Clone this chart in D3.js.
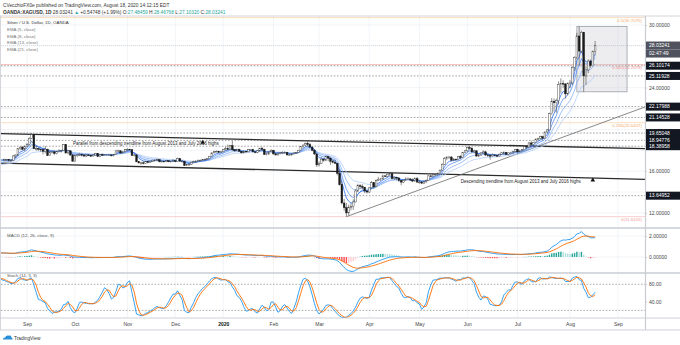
<!DOCTYPE html>
<html><head><meta charset="utf-8">
<script src="https://cdn.jsdelivr.net/npm/d3@7"></script>
<style>
html,body{margin:0;padding:0;background:#fff;}
svg{display:block;font-family:"Liberation Sans",Arial,sans-serif;}
</style></head><body>
<svg id="c" width="680" height="345"></svg>
<script>
// ---------------- DATA ----------------
// closes before the first visible bar (Jul 1 – Aug 16, 2019), used only to warm up indicators
const warmupCloses = [15.12,15.25,15.30,15.28,14.98,15.05,15.05,15.25,15.18,15.20,15.30,15.53,15.88,16.08,16.08,
  16.40,16.35,16.45,16.40,16.34,16.42,16.50,16.36,16.05,16.25,16.42,16.42,17.10,17.07,17.05,16.95,17.25,17.15,17.20,17.05];
// daily bars Aug 19, 2019 – Aug 18, 2020
const opens = [
 17.05,17.10,17.10,17.05,17.05,17.45,17.55,18.15,18.30,18.10,
 18.35,18.55,19.15,19.50,18.15,18.15,18.10,18.05,17.90,18.10,17.50,17.85,17.85,17.70,17.90,17.95,18.00,18.55,17.75,17.95,17.55,
 16.95,17.50,17.55,17.60,17.55,17.45,17.55,17.50,17.45,17.55,17.70,17.40,17.60,17.55,17.55,17.55,17.55,17.50,17.60,17.95,17.95,17.75,17.85,
 18.05,18.10,18.05,17.50,17.55,16.90,16.80,16.80,16.75,16.90,16.85,16.95,17.05,17.05,17.10,16.90,16.95,16.90,17.00,16.90,16.95,
 17.00,16.95,17.20,16.95,16.95,16.55,16.65,16.65,16.85,16.90,16.95,17.05,17.05,17.10,17.15,17.20,17.40,17.75,17.90,17.90,17.80,
 17.85,18.05,18.15,18.10,18.45,18.05,17.95,18.10,17.90,17.75,17.90,17.85,18.05,18.05,17.85,17.80,17.95,18.20,18.10,17.60,17.65,17.85,
 18.00,17.65,17.55,17.70,17.75,17.80,17.80,17.55,17.55,17.65,17.75,17.80,18.00,18.35,18.50,18.65,18.55,18.30,18.00,17.65,
 16.60,16.75,17.15,17.05,17.40,17.25,16.95,16.85,16.75,15.80,14.70,12.95,12.50,12.00,12.55,12.60,13.05,14.10,14.60,14.55,14.45,14.10,
 14.00,14.40,14.90,14.50,15.10,15.20,15.25,15.55,15.50,15.70,15.75,15.30,15.40,15.35,15.10,14.95,15.10,15.25,15.25,15.15,15.05,15.30,
 14.95,14.95,14.85,15.00,15.10,15.55,15.50,15.65,15.70,15.75,16.10,16.65,17.20,17.30,17.35,17.05,17.15,17.10,17.40,17.30,17.80,
 17.95,18.25,18.20,17.85,17.95,17.45,17.55,17.75,17.85,17.55,17.50,17.45,17.55,17.50,17.45,17.60,17.75,17.80,17.60,17.75,17.75,17.90,
 18.10,17.85,17.95,18.05,18.35,18.30,18.70,18.55,18.75,19.05,19.15,19.30,19.15,19.75,19.95,21.50,22.70,22.55,22.75,24.30,24.40,24.35,23.40,
 24.40,24.45,25.95,26.90,28.95,27.50,29.30,25.12,25.70,26.55,26.10,27.48];
const highs = [
 17.20,17.18,17.15,17.15,17.55,17.60,18.20,18.35,18.40,18.45,
 18.70,19.25,19.65,19.55,18.45,18.30,18.15,18.20,18.40,18.15,17.95,17.95,18.00,17.95,18.10,18.05,18.60,18.60,18.00,18.00,17.65,
 17.60,17.65,17.75,17.70,17.60,17.65,17.65,17.60,17.65,17.75,17.75,17.65,17.70,17.65,17.65,17.65,17.65,17.65,18.00,18.05,18.00,17.95,18.10,
 18.20,18.15,18.05,17.65,17.65,16.95,16.90,16.95,16.95,17.00,17.00,17.10,17.15,17.20,17.15,17.05,17.00,17.05,17.05,16.98,17.15,
 17.10,17.30,17.25,17.05,17.00,16.70,16.75,16.90,17.00,17.05,17.10,17.10,17.15,17.20,17.25,17.45,17.80,17.95,18.00,17.95,17.95,
 18.10,18.35,18.55,18.50,18.90,18.10,18.15,18.15,17.95,17.95,17.95,18.10,18.10,18.15,17.95,18.05,18.25,18.35,18.15,17.75,17.95,18.10,
 18.05,17.75,17.80,17.85,17.90,17.90,17.85,17.70,17.70,17.80,17.85,18.05,18.40,18.55,18.75,18.95,18.70,18.40,18.10,17.70,
 16.95,17.35,17.20,17.50,17.45,17.35,17.10,17.10,16.80,16.20,15.10,13.35,12.95,12.80,12.95,13.30,14.25,14.80,14.75,14.75,14.50,14.20,
 14.45,15.05,14.95,15.20,15.45,15.35,15.65,15.60,15.75,15.85,15.80,15.50,15.45,15.40,15.15,15.20,15.40,15.40,15.35,15.30,15.40,15.45,
 15.15,15.05,15.10,15.20,15.60,15.65,15.75,15.75,15.85,16.15,16.75,17.35,17.45,17.45,17.45,17.25,17.20,17.45,17.55,17.85,18.05,
 18.35,18.40,18.30,18.05,18.00,17.65,17.80,18.00,17.95,17.65,17.65,17.70,17.65,17.60,17.70,17.85,17.90,17.85,17.80,17.85,17.95,18.15,
 18.15,18.05,18.10,18.40,18.40,18.80,18.90,18.80,19.15,19.20,19.40,19.40,19.80,20.05,21.60,23.00,22.95,22.95,24.60,24.90,24.70,24.45,24.50,
 24.75,26.05,27.00,29.25,29.85,29.45,29.35,26.05,26.70,26.70,27.55,28.47];
const lows = [
 16.95,16.98,16.92,16.90,16.95,17.25,17.45,18.00,18.00,17.90,
 18.30,18.45,19.10,18.10,17.95,17.95,17.85,17.60,17.70,17.45,17.50,17.70,17.55,17.60,17.80,17.80,17.95,17.65,17.60,17.45,16.95,
 16.90,17.35,17.45,17.40,17.35,17.35,17.45,17.35,17.40,17.50,17.35,17.35,17.45,17.45,17.45,17.45,17.40,17.40,17.55,17.80,17.65,17.70,17.80,
 17.90,17.95,17.45,17.40,16.85,16.70,16.60,16.65,16.70,16.75,16.80,16.90,16.95,16.95,16.85,16.85,16.85,16.85,16.85,16.85,16.90,
 16.85,16.90,16.90,16.85,16.50,16.50,16.55,16.60,16.75,16.80,16.90,16.95,17.00,17.00,17.05,17.15,17.35,17.70,17.80,17.75,17.70,
 17.80,17.95,18.00,18.05,17.95,17.85,17.90,17.85,17.70,17.70,17.80,17.80,17.95,17.80,17.70,17.70,17.85,18.00,17.55,17.50,17.55,17.80,
 17.60,17.50,17.50,17.60,17.65,17.70,17.50,17.45,17.50,17.60,17.65,17.75,17.95,18.20,18.40,18.35,18.20,17.90,17.55,16.40,
 16.45,16.70,16.90,16.95,16.95,16.60,16.75,16.70,15.60,14.60,12.80,12.20,11.64,11.75,12.25,12.30,13.00,14.00,14.30,14.25,13.90,13.85,
 13.90,14.30,14.40,14.45,15.05,15.05,15.20,15.45,15.40,15.55,15.20,15.15,15.10,14.95,14.65,14.85,15.05,15.15,15.05,14.95,15.00,14.90,
 14.80,14.75,14.80,14.85,15.05,15.40,15.45,15.55,15.55,15.70,16.05,16.60,17.05,17.15,16.95,16.95,17.00,17.00,17.15,17.25,17.70,
 17.85,18.05,17.75,17.70,17.35,17.35,17.50,17.65,17.45,17.35,17.10,17.40,17.40,17.35,17.40,17.55,17.60,17.55,17.50,17.60,17.70,17.80,
 17.70,17.80,17.90,18.00,18.15,18.25,18.50,18.40,18.70,18.90,19.05,19.05,19.10,19.70,19.90,21.40,21.70,21.60,22.40,23.45,23.95,22.95,23.25,
 23.95,24.25,25.60,26.75,26.10,27.30,23.60,24.25,25.40,25.90,26.05,27.10];
const closes = [
 17.10,17.10,17.05,17.05,17.45,17.55,18.15,18.30,18.10,18.35,
 18.55,19.15,19.50,18.15,18.15,18.10,18.05,17.90,18.10,17.50,17.85,17.85,17.70,17.90,17.95,18.00,18.55,17.75,17.95,17.55,16.95,
 17.50,17.55,17.60,17.55,17.45,17.55,17.50,17.45,17.55,17.70,17.40,17.60,17.55,17.55,17.55,17.55,17.50,17.60,17.95,17.95,17.75,17.85,18.05,
 18.10,18.05,17.50,17.55,16.90,16.80,16.80,16.75,16.90,16.85,16.95,17.05,17.05,17.10,16.90,16.95,16.90,17.00,16.90,16.95,17.00,
 16.95,17.20,16.95,16.95,16.55,16.65,16.65,16.85,16.90,16.95,17.05,17.05,17.10,17.15,17.20,17.40,17.75,17.90,17.90,17.80,17.85,
 18.05,18.15,18.10,18.45,18.05,17.95,18.10,17.90,17.75,17.90,17.85,18.05,18.05,17.85,17.80,17.95,18.20,18.10,17.60,17.65,17.85,18.00,
 17.65,17.55,17.70,17.75,17.80,17.80,17.55,17.55,17.65,17.75,17.80,18.00,18.35,18.50,18.65,18.55,18.30,18.00,17.65,16.60,
 16.75,17.15,17.05,17.40,17.25,16.95,16.85,16.75,15.80,14.70,12.95,12.50,12.00,12.55,12.60,13.05,14.10,14.60,14.55,14.45,14.10,14.00,
 14.40,14.90,14.50,15.10,15.20,15.25,15.55,15.50,15.70,15.75,15.30,15.40,15.35,15.10,14.95,15.10,15.25,15.25,15.15,15.05,15.30,14.95,
 14.95,14.85,15.00,15.10,15.55,15.50,15.65,15.70,15.75,16.10,16.65,17.20,17.30,17.35,17.05,17.15,17.10,17.40,17.30,17.80,17.95,
 18.25,18.20,17.85,17.95,17.45,17.55,17.75,17.85,17.55,17.50,17.45,17.55,17.50,17.45,17.60,17.75,17.80,17.60,17.75,17.75,17.90,18.10,
 17.85,17.95,18.05,18.35,18.30,18.70,18.55,18.75,19.05,19.15,19.30,19.15,19.75,19.95,21.50,22.70,22.55,22.75,24.30,24.40,24.35,23.40,24.40,
 24.45,25.95,26.90,28.95,27.50,29.30,25.12,25.70,26.55,26.10,27.48,28.03241];
const firstVisibleDate = "2019-08-19";
const monthLabels = ["Sep","Oct","Nov","Dec","2020","Feb","Mar","Apr","May","Jun","Jul","Aug","Sep"];
const emaPeriods = [5, 8, 13, 21];
const levelValues = [26.10174, 25.11928, 22.17988, 21.14528, 19.65048, 18.94776, 18.38958, 13.64952];
const levelLabels = ["26.10174","25.11928","22.17988","21.14528","19.65048","18.94776","18.38958","13.64952"];
const lastPrice = 28.03241, lastLabel = "28.03241", countdown = "02:47:49";
const fibRatios = ["0.5","0.382","0.236","0"];
const fibValues = [30.7075, 26.2079, 20.6407, 11.6415];
const upperChannel = [["2019-09-04", 19.52], ["2020-08-18", 18.26]];
const descTrend = [["2019-09-04", 16.70], ["2020-08-18", 15.34]];
const risingTrend = [["2020-03-18", 11.64], ["2020-08-18", 20.39]];
const boxRange = {from:"2020-08-06", bars:22, top:29.85, bottom:23.60};
const macdTicks = [2, 0];
const stochTicks = [80, 40];

// ---------------- SETUP ----------------
const svg = d3.select("#c");
const plotL = 1, plotR = 645, mainTop = 16, mainBot = 228, macdBot = 273, stochBot = 318, timeBot = 330;
const FS = 5;

// trading calendar (weekdays, without Dec 25 / Jan 1)
const days = [];
for (let d = new Date(Date.UTC(2019,6,1)); d <= new Date(Date.UTC(2020,8,30)); d.setUTCDate(d.getUTCDate()+1)) {
  const wd = d.getUTCDay(), m = d.getUTCMonth(), dd = d.getUTCDate();
  if (wd !== 0 && wd !== 6 && !(m===11 && dd===25) && !(m===0 && dd===1)) days.push(new Date(d));
}
const iso = d => d.toISOString().slice(0,10);
const idx = s => days.findIndex(d => iso(d) === s);
const v0 = idx(firstVisibleDate);
const nW = warmupCloses.length;

const x = d3.scaleLinear().domain([idx("2019-09-02"), idx("2020-08-03")]).range([27, 570]);
const yP = d3.scaleLinear().domain([12, 30]).range([212.9, 25]);
const yM = d3.scaleLinear().domain([0, 2]).range([257, 236]);
const yS = d3.scaleLinear().domain([0, 100]).range([319.1, 275.6]);

// indicators
const allC = warmupCloses.concat(closes);
const allH = warmupCloses.concat(highs);
const allL = warmupCloses.concat(lows);
const absOf = k => v0 - nW + k;
function ema(a, n) { const k = 2/(n+1); let p; return a.map((v,i) => (p = i===0 ? v : v*k + p*(1-k))); }
function sma(a, n) { return a.map((v,i) => d3.mean(a.slice(Math.max(0,i-n+1), i+1))); }
const emas = emaPeriods.map(n => ema(allC, n));
const e12 = ema(allC, 12), e26 = ema(allC, 26);
const macd = e12.map((v,i) => v - e26[i]);
const signal = ema(macd, 9);
const hist = macd.map((v,i) => v - signal[i]);
const rawK = allC.map((c,i) => {
  const lo = d3.min(allL.slice(Math.max(0,i-13), i+1)), hi = d3.max(allH.slice(Math.max(0,i-13), i+1));
  return hi === lo ? 50 : 100*(c-lo)/(hi-lo);
});
const kLine = sma(rawK, 3), dLine = sma(kLine, 3);

// clip paths
const defs = svg.append("defs");
[["cMain", mainTop, mainBot], ["cMacd", mainBot, macdBot], ["cStoch", macdBot, stochBot]].forEach(([id,t,b]) => {
  defs.append("clipPath").attr("id", id).append("rect").attr("x", plotL).attr("y", t).attr("width", plotR-plotL).attr("height", b-t);
});

// ---------------- GRID ----------------
const monthIdx = [];
for (let i = 1; i < days.length; i++) if (days[i].getUTCMonth() !== days[i-1].getUTCMonth() && days[i] >= new Date(Date.UTC(2019,8,1))) monthIdx.push(i);
const grid = svg.append("g");
monthIdx.forEach(i => grid.append("line").attr("x1", x(i)).attr("x2", x(i)).attr("y1", mainTop).attr("y2", stochBot).attr("stroke", "#eef1f6").attr("stroke-width", 0.8));
d3.range(12, 31, 2).forEach(p => grid.append("line").attr("x1", plotL).attr("x2", plotR).attr("y1", yP(p)).attr("y2", yP(p)).attr("stroke", "#eef1f6").attr("stroke-width", 0.8));
macdTicks.forEach(p => grid.append("line").attr("x1", plotL).attr("x2", plotR).attr("y1", yM(p)).attr("y2", yM(p)).attr("stroke", "#eef1f6").attr("stroke-width", 0.8));

// ---------------- MAIN PANE ----------------
const main = svg.append("g").attr("clip-path", "url(#cMain)");
const lineAt = (g, y, color, dash, w) => g.append("line").attr("x1", plotL).attr("x2", plotR).attr("y1", y).attr("y2", y)
  .attr("stroke", color).attr("stroke-width", w || 0.8).attr("stroke-dasharray", dash || null);

const fibColors = ["#f9d3b0", "#f5aeaa", "#f9d3b0", "#f7c4c4"];
const fibTextColors = ["#f3ad72", "#ef9090", "#f3ad72", "#f19a9a"];
fibValues.forEach((v,i) => lineAt(main, yP(v), fibColors[i], null, 0.8));
levelValues.forEach(v => lineAt(main, yP(v), "#8a8a8a", "1.6,1.6", 0.8));
lineAt(main, yP(lastPrice), "#c3c6cc", "1,1", 0.6);

// box
const bx0 = x(idx(boxRange.from)), bx1 = x(idx(boxRange.from) + boxRange.bars);
main.append("rect").attr("x", bx0).attr("y", yP(boxRange.top)).attr("width", bx1-bx0).attr("height", yP(boxRange.bottom)-yP(boxRange.top))
  .attr("fill", "rgba(190,192,200,0.28)").attr("stroke", "#9aa0aa").attr("stroke-width", 0.8);

// trend lines (extended as rays)
function drawTrend(pts, extendLeft) {
  const [a,b] = pts.map(([d,p]) => [idx(d), p]);
  const slope = (b[1]-a[1])/(b[0]-a[0]);
  const xL = extendLeft ? x.invert(plotL - 2) : a[0];
  const xR = x.invert(plotR + 2);
  main.append("line").attr("x1", x(xL)).attr("y1", yP(a[1] + slope*(xL-a[0])))
    .attr("x2", x(xR)).attr("y2", yP(a[1] + slope*(xR-a[0])))
    .attr("stroke", extendLeft ? "#2b2b2b" : "#6b6b6b").attr("stroke-width", extendLeft ? 1.3 : 0.8);
}
drawTrend(upperChannel, true);
drawTrend(descTrend, true);
drawTrend(risingTrend, false);

// EMAs
const emaColors = ["#2a6ff0", "#5891f4", "#86b0f7", "#b0cbf9"];
emas.slice().reverse().forEach((e, r) => {
  const i = emas.length - 1 - r;
  main.append("path").datum(d3.range(nW - 2, allC.length))
    .attr("d", d3.line().x(k => x(absOf(k))).y(k => yP(e[k])))
    .attr("fill", "none").attr("stroke", emaColors[i]).attr("stroke-width", 0.8);
});

// candles
const cg = main.append("g");
closes.forEach((c, j) => {
  const o = opens[j], h = highs[j], l = lows[j];
  const cx = x(v0 + j);
  const up = c >= o;
  cg.append("line").attr("x1", cx).attr("x2", cx).attr("y1", yP(Math.max(h,o,c))).attr("y2", yP(Math.min(l,o,c)))
    .attr("stroke", "#444").attr("stroke-width", 0.6);
  const yt = yP(Math.max(o,c)), yb = yP(Math.min(o,c));
  cg.append("rect").attr("x", cx-0.85).attr("y", yt).attr("width", 1.7).attr("height", Math.max(0.7, yb-yt))
    .attr("fill", up ? "#ffffff" : "#1a1a1a").attr("stroke", up ? "#444" : "#1a1a1a").attr("stroke-width", 0.45);
});

// fib labels
const fibG = svg.append("g").attr("font-size", 4.4).attr("text-anchor", "end");
fibValues.forEach((v,i) => fibG.append("text").attr("x", 642).attr("y", yP(v) + 4.2)
  .attr("fill", fibTextColors[i]).text(`${fibRatios[i]}(${v.toFixed(4)})`));

// annotations
const ann = svg.append("g").attr("font-size", 4.5).attr("fill", "#222");
const annPts = [
  {t:"Parallel from descending trendline from August 2013 and July 2016 highs", d:"2019-10-01", p:18.55, md:"2019-12-18", mp:18.75},
  {t:"Descending trendline from August 2013 and July 2016 highs", d:"2020-05-28", p:14.84, md:"2020-08-17", mp:15.13}
];
annPts.forEach(a => {
  ann.append("text").attr("x", x(idx(a.d)) - 2).attr("y", yP(a.p)).text(a.t);
  ann.append("path").attr("d", d3.symbol(d3.symbolTriangle, 9)()).attr("transform", `translate(${x(idx(a.md))},${yP(a.mp)})`).attr("fill", "#111");
});

// ---------------- MACD PANE ----------------
const mp = svg.append("g").attr("clip-path", "url(#cMacd)");
const hg = mp.append("g");
for (let k = nW - 2; k < allC.length; k++) {
  const h = hist[k], ph = hist[k-1];
  const col = h >= 0 ? (h >= ph ? "#26a69a" : "#b2dfdb") : (h < ph ? "#ff5252" : "#ffcdd2");
  const y0 = yM(0), y1 = yM(h);
  hg.append("rect").attr("x", x(absOf(k)) - 0.7).attr("width", 1.4).attr("y", Math.min(y0,y1)).attr("height", Math.max(0.3, Math.abs(y1-y0))).attr("fill", col);
}
const rngK = d3.range(nW - 2, allC.length);
mp.append("path").datum(rngK).attr("d", d3.line().x(k => x(absOf(k))).y(k => yM(macd[k]))).attr("fill","none").attr("stroke","#2196f3").attr("stroke-width",0.9);
mp.append("path").datum(rngK).attr("d", d3.line().x(k => x(absOf(k))).y(k => yM(signal[k]))).attr("fill","none").attr("stroke","#ff6d00").attr("stroke-width",0.9);

// ---------------- STOCH PANE ----------------
const sp = svg.append("g").attr("clip-path", "url(#cStoch)");
[80, 20].forEach(v => lineAt(sp, yS(v), "#8a8a8a", "1.6,1.6", 0.7));
sp.append("path").datum(rngK).attr("d", d3.line().x(k => x(absOf(k))).y(k => yS(kLine[k]))).attr("fill","none").attr("stroke","#2196f3").attr("stroke-width",0.9);
sp.append("path").datum(rngK).attr("d", d3.line().x(k => x(absOf(k))).y(k => yS(dLine[k]))).attr("fill","none").attr("stroke","#ff6d00").attr("stroke-width",0.9);

// ---------------- FRAME ----------------
const fr = svg.append("g").attr("stroke", "#c9ccd2");
fr.append("line").attr("x1",0).attr("x2",680).attr("y1",mainTop).attr("y2",mainTop).attr("stroke-width",0.8);
[mainBot, macdBot].forEach(y => fr.append("line").attr("x1",0).attr("x2",680).attr("y1",y).attr("y2",y).attr("stroke-width",1.6));
[stochBot, timeBot].forEach(y => fr.append("line").attr("x1",0).attr("x2",680).attr("y1",y).attr("y2",y).attr("stroke-width",0.9));
fr.append("line").attr("x1",plotR+0.5).attr("x2",plotR+0.5).attr("y1",mainTop).attr("y2",timeBot).attr("stroke-width",1.2);
fr.append("line").attr("x1",0.5).attr("x2",0.5).attr("y1",mainTop).attr("y2",timeBot).attr("stroke-width",0.8);

// ---------------- AXES ----------------
const labelYs = levelValues.map(yP).concat([yP(lastPrice), yP(lastPrice)+8]);
const priceTicks = d3.range(12, 31, 2).filter(p => labelYs.every(ly => Math.abs(ly - yP(p)) > 6));
function styleAxis(g) {
  g.select(".domain").remove();
  g.selectAll("text").attr("font-size", FS).attr("fill", "#444").attr("font-family", "Liberation Sans, Arial, sans-serif");
  g.selectAll("line").attr("stroke", "#c9ccd2");
}
styleAxis(svg.append("g").attr("transform", `translate(${plotR},0)`)
  .call(d3.axisRight(yP).tickValues(priceTicks).tickSize(2).tickPadding(2).tickFormat(d3.format(".5f"))));
styleAxis(svg.append("g").attr("transform", `translate(${plotR},0)`)
  .call(d3.axisRight(yM).tickValues(macdTicks).tickSize(2).tickPadding(2).tickFormat(d3.format(".5f"))));
styleAxis(svg.append("g").attr("transform", `translate(${plotR},0)`)
  .call(d3.axisRight(yS).tickValues(stochTicks).tickSize(2).tickPadding(2).tickFormat(d3.format(".2f"))));

// level label boxes
const lb = svg.append("g").attr("font-size", FS);
function box(y, txt, bg) {
  lb.append("rect").attr("x", plotR + 1).attr("y", y - 4).attr("width", 34).attr("height", 8).attr("fill", bg);
  lb.append("text").attr("x", plotR + 4).attr("y", y + 1.8).attr("fill", "#fff").text(txt);
}
levelValues.forEach((v,i) => box(yP(v), levelLabels[i], "#131722"));
box(yP(lastPrice), lastLabel, "#50535e");
box(yP(lastPrice) + 8, countdown, "#50535e");

// time axis
const axT = svg.append("g").attr("transform", `translate(0,${stochBot})`)
  .call(d3.axisBottom(x).tickValues(monthIdx).tickSize(0).tickPadding(4).tickFormat((d,i) => monthLabels[i]));
axT.select(".domain").remove();
axT.selectAll("text").attr("font-size", FS).attr("font-family", "Liberation Sans, Arial, sans-serif")
  .attr("font-weight", (d,i) => monthLabels[i] === "2020" ? "bold" : null).attr("fill", (d,i) => monthLabels[i] === "2020" ? "#111" : "#444");

// ---------------- TEXTS ----------------
const tx = svg.append("g").attr("font-size", 4.8).attr("fill", "#333");
tx.append("text").attr("x", 3).attr("y", 6.6).text("CVecchioFX0e published on TradingView.com, August 18, 2020 14:12:15 EDT");
const l2 = tx.append("text").attr("x", 3).attr("y", 14.3);
l2.append("tspan").attr("font-weight", "bold").text("OANDA:XAGUSD, 1D  ");
l2.append("tspan").text("28.03241 ");
l2.append("tspan").attr("fill", "#26a69a").text("▲ ");
l2.append("tspan").text("+0.54748 (+1.99%) O:");
l2.append("tspan").attr("fill", "#26a69a").text("27.48459");
l2.append("tspan").text(" H:");
l2.append("tspan").attr("fill", "#26a69a").text("28.46768");
l2.append("tspan").text(" L:");
l2.append("tspan").attr("fill", "#26a69a").text("27.10320");
l2.append("tspan").text(" C:");
l2.append("tspan").attr("fill", "#26a69a").text("28.03241");

const lg = svg.append("g").attr("font-size", 4.4);
lg.append("text").attr("x", 7).attr("y", 24.3).attr("fill", "#333").text("Silver / U.S. Dollar, 1D, OANDA");
emaPeriods.forEach((n,i) => lg.append("text").attr("x", 7).attr("y", 31 + i*6.5).attr("fill", "#777").text(`EMA (${n}, close)`));
lg.append("text").attr("x", 7).attr("y", 236.8).attr("fill", "#555").text("MACD (12, 26, close, 9)");
lg.append("text").attr("x", 7).attr("y", 277).attr("fill", "#555").text("Stoch (14, 3, 3)");

// logo
const logo = svg.append("g").attr("transform", "translate(3,335)");
logo.append("path").attr("d", "M0,4.5 C0,3 1.2,2.2 2.2,2.5 C2.6,0.8 4.4,0 5.8,0.8 C6.8,0.2 8.4,0.8 8.4,2.4 C9.4,2.6 9.8,3.6 9.6,4.5 Z").attr("fill", "#2a8fd6");
svg.append("text").attr("x", 14).attr("y", 340).attr("font-size", 4.8).attr("fill", "#333").text("TradingView");
</script>
</body></html>
